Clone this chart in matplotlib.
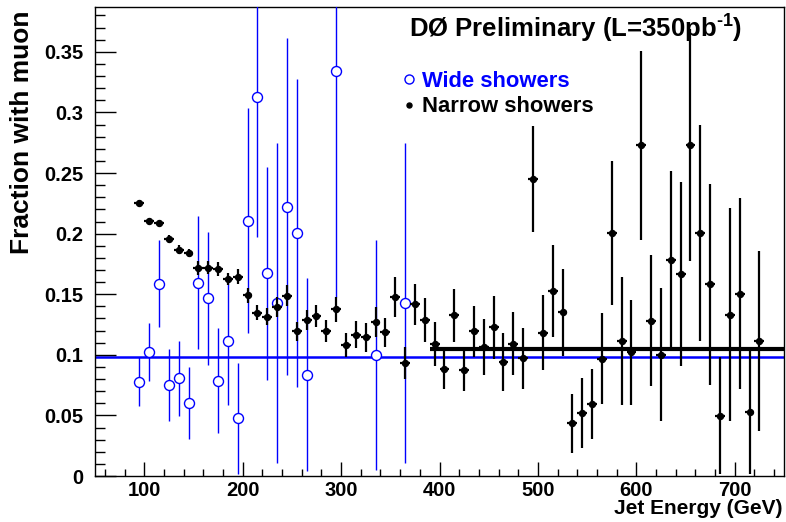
import numpy as np
import matplotlib
matplotlib.use("Agg")
import matplotlib.pyplot as plt
from matplotlib.lines import Line2D
from matplotlib.ticker import MultipleLocator, FuncFormatter

plt.rcParams['font.family'] = ['Liberation Sans', 'DejaVu Sans']
plt.rcParams['font.weight'] = 'bold'
plt.rcParams['mathtext.fontset'] = 'custom'
plt.rcParams['mathtext.rm'] = 'Liberation Sans:bold'
plt.rcParams['mathtext.default'] = 'rm'

# ---- data ----
narrow_e = [95, 105, 115, 125, 135, 145, 155, 165, 175, 185, 195, 205, 215, 225, 235, 245,
            255, 265, 275, 285, 295, 305, 315, 325, 335, 345, 355, 365, 375, 385, 395, 405,
            415, 425, 435, 445, 455, 465, 475, 485, 495, 505, 515, 525, 535, 545, 555, 565,
            575, 585, 595, 605, 615, 625, 635, 645, 655, 665, 675, 685, 695, 705, 715, 725]
narrow_frac = [0.2256, 0.2104, 0.2088, 0.1955, 0.1865, 0.1840, 0.1716, 0.1720, 0.1707, 0.1622,
               0.1644, 0.1490, 0.1347, 0.1314, 0.1393, 0.1488, 0.1193, 0.1284, 0.1319, 0.1198,
               0.1374, 0.1083, 0.1165, 0.1146, 0.1273, 0.1187, 0.1476, 0.0934, 0.1416, 0.1289,
               0.1090, 0.0881, 0.1325, 0.0873, 0.1195, 0.1063, 0.1228, 0.0939, 0.1091, 0.0972,
               0.2451, 0.1182, 0.1523, 0.1350, 0.0435, 0.0518, 0.0595, 0.0967, 0.2005, 0.1113,
               0.1022, 0.2730, 0.1283, 0.1002, 0.1785, 0.1669, 0.2730, 0.2005, 0.1581, 0.0498,
               0.1330, 0.1504, 0.0526, 0.1113]
narrow_err = [0.002, 0.002, 0.002, 0.003, 0.0037, 0.0037, 0.0055, 0.0055, 0.0055, 0.005,
              0.006, 0.006, 0.006, 0.007, 0.008, 0.0085, 0.008, 0.0083, 0.009, 0.009,
              0.010, 0.010, 0.011, 0.012, 0.0125, 0.012, 0.0165, 0.0134, 0.017, 0.018,
              0.018, 0.016, 0.022, 0.017, 0.021, 0.023, 0.026, 0.024, 0.026, 0.025,
              0.044, 0.031, 0.038, 0.036, 0.0245, 0.029, 0.029, 0.0375, 0.0595, 0.053,
              0.0434, 0.078, 0.054, 0.055, 0.073, 0.076, 0.0956, 0.089, 0.083, 0.048,
              0.088, 0.079, 0.051, 0.074]

wide_e = [95, 105, 115, 125, 135, 145, 155, 165, 175, 185, 195, 205, 215, 225, 235, 245,
          255, 265, 295, 335, 365]
wide_frac = [0.0779, 0.1022, 0.1587, 0.0752, 0.0807, 0.0603, 0.1595, 0.1465, 0.0788, 0.1113,
             0.0476, 0.2107, 0.3129, 0.1672, 0.1430, 0.2223, 0.2005, 0.0835, 0.3339, 0.1000,
             0.1430]
wide_err = [0.020, 0.024, 0.036, 0.030, 0.031, 0.0296, 0.055, 0.055, 0.0435, 0.0526,
            0.046, 0.093, 0.116, 0.088, 0.132, 0.139, 0.127, 0.0795, 0.186, 0.095,
            0.132]
bin_half_width = 5

wide_fit = 0.0986
narrow_fit = 0.1047
narrow_fit_range = (390, 750)

x_range = (50, 750)
y_range = (0, 0.387)

# ---- figure ----
fig = plt.figure(figsize=(7.86, 5.22), dpi=100)
ax = fig.add_axes([95/786, 46/522, 689/786, 469/522])

blue = '#0000ff'
ax.axhline(wide_fit, color=blue, lw=1.8, zorder=1)
ax.hlines(narrow_fit, narrow_fit_range[0], narrow_fit_range[1], color='black', lw=3.0, zorder=1)

ax.errorbar(wide_e, wide_frac, yerr=wide_err, xerr=bin_half_width, fmt='o', ms=7.2,
            mfc='white', mec=blue, mew=1.0, ecolor=blue, elinewidth=1.0, capsize=0,
            zorder=3)
ax.errorbar(narrow_e, narrow_frac, yerr=narrow_err, xerr=bin_half_width, fmt='o', ms=4.3,
            mfc='black', mec='black', ecolor='black', elinewidth=1.6, capsize=0, zorder=4)

ax.set_xlim(*x_range)
ax.set_ylim(*y_range)

ax.xaxis.set_major_locator(MultipleLocator(100))
ax.xaxis.set_minor_locator(MultipleLocator(20))
ax.yaxis.set_major_locator(MultipleLocator(0.05))
ax.yaxis.set_minor_locator(MultipleLocator(0.01))
ax.yaxis.set_major_formatter(FuncFormatter(lambda v, p: '%g' % round(v, 3)))

ax.tick_params(axis='both', which='both', direction='in', top=False, right=False,
               width=1.0, labelsize=14.5)
ax.tick_params(axis='y', which='major', length=15, pad=8.6)
ax.tick_params(axis='y', which='minor', length=7.5)
ax.tick_params(axis='x', which='major', length=10, pad=3.5)
ax.tick_params(axis='x', which='minor', length=5)
for lab in ax.get_xticklabels() + ax.get_yticklabels():
    lab.set_fontweight('bold')
for s in ax.spines.values():
    s.set_linewidth(1.0)

fig.text(22/786, 1 - 132/522, 'Fraction with muon', rotation=90, ha='center', va='center',
         fontsize=19, fontweight='bold')
fig.text(783/786, 1 - 499/522, 'Jet Energy (GeV)', ha='right', va='top',
         fontsize=15, fontweight='bold')

fig.text(409/786, 1 - 38/522, r'DØ Preliminary (L=350pb$^{\text{-1}}$)', ha='left',
         va='baseline', fontsize=18.5, fontweight='bold')

handles = [Line2D([], [], ls='none', marker='o', ms=6.5, mfc='white', mec=blue, mew=1.0),
           Line2D([], [], ls='none', marker='o', ms=3.6, mfc='black', mec='black')]
leg = ax.legend(handles, ['Wide showers', 'Narrow showers'], loc='upper left',
                bbox_to_anchor=(402.4/786, 1 - 71/522), bbox_transform=fig.transFigure,
                frameon=False, borderpad=0, borderaxespad=0, handlelength=0.6,
                handletextpad=0.28, labelspacing=0.2, prop={'size': 15.8, 'weight': 'bold'})
leg.get_texts()[0].set_color(blue)
leg.get_texts()[1].set_color('black')

fig.savefig('out.png', dpi=100)
